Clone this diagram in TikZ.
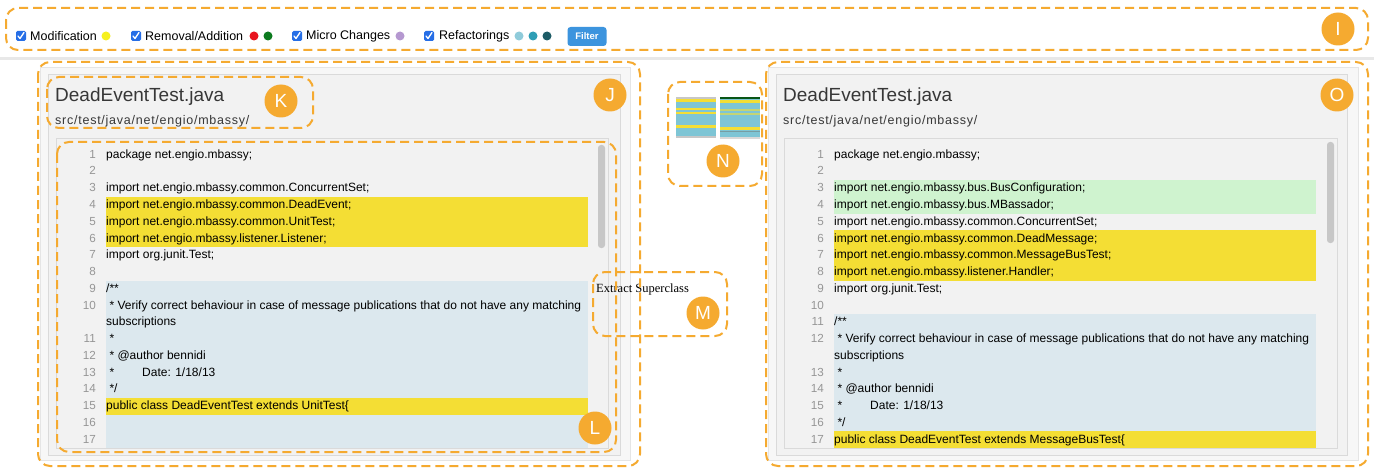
\documentclass[tikz,border=0pt]{standalone}
\usepackage{fontspec}
\setmainfont{Liberation Sans}
\newfontfamily\codefont{Liberation Sans}
\newfontfamily\pathfont[LetterSpace=6]{Liberation Sans}
\newfontfamily\serifface{Liberation Serif}
\usepackage{tikz}
\usetikzlibrary{calc}
\definecolor{badgeorange}{RGB}{245,170,48}
\definecolor{chkblue}{RGB}{38,110,230}
\definecolor{btnblue}{RGB}{60,148,222}
\definecolor{panelgray}{RGB}{242,242,242}
\definecolor{framegray}{RGB}{218,218,218}
\definecolor{numgray}{RGB}{150,150,150}
\definecolor{titlegray}{RGB}{55,55,55}
\definecolor{modyellow}{RGB}{244,222,52}
\definecolor{commentblue}{RGB}{220,232,238}
\definecolor{addgreen}{RGB}{207,243,207}
\definecolor{mapblue}{RGB}{126,197,213}
\definecolor{dotyellow}{RGB}{246,240,30}
\definecolor{dotred}{RGB}{232,20,30}
\definecolor{dotgreen}{RGB}{12,122,30}
\definecolor{dotpurple}{RGB}{181,152,208}
\definecolor{dotlightblue}{RGB}{143,203,218}
\definecolor{dotteal}{RGB}{46,158,181}
\definecolor{dotdarkteal}{RGB}{29,92,102}

% one numbered line of source: name, x of number, row, number, text
\newcommand{\codeline}[5]{%
  \node[lineno] (#1n) at (#2,{155+16.75*#3}) {#4};
  \node[codetext] (#1) at ({#2+10},{155+16.75*#3}) {#5};}

\begin{document}
\begin{tikzpicture}[x=1pt, y=-1pt,
  region/.style={draw=badgeorange, line width=2pt, dash pattern=on 9pt off 5pt, rounded corners=12pt},
  badge/.style={circle, fill=badgeorange, minimum size=33pt, inner sep=0, text=white, font=\fontsize{19}{19}\selectfont},
  chkbox/.style={fill=chkblue, rounded corners=1.5pt, minimum size=10pt, inner sep=0},
  checkmark/.style={draw=white, line width=1.3pt, line cap=round, line join=round},
  barlabel/.style={anchor=west, inner sep=0, font=\fontsize{12.5}{14}\selectfont},
  legdot/.style={circle, minimum size=9pt, inner sep=0},
  lineno/.style={anchor=east, inner sep=0, text=numgray, font=\codefont\fontsize{11.7}{13}\selectfont, text height=9pt, text depth=2.5pt},
  codetext/.style={anchor=west, inner sep=0, font=\codefont\fontsize{12}{14}\selectfont, text height=9pt, text depth=2.5pt},
  filename/.style={anchor=west, inner sep=0, text=titlegray, font=\fontsize{19}{22}\selectfont},
  filepath/.style={anchor=west, inner sep=0, text=titlegray, font=\pathfont\fontsize{12.5}{14}\selectfont}]

\useasboundingbox[fill=white] (0,0) rectangle (1374,468);

% --- Filter bar ---
\fill[black!9] (0,57) rectangle (1374,60);
\foreach \x/\n in {21/1,136/2,297/3,429/4} {
  \node[chkbox] (chk\n) at (\x,36) {};
  \draw[checkmark] ($(chk\n)+(-3,0)$) -- ++(2,2.5) -- ++(4,-6);
}
\node[barlabel] (modlbl) at (30,36) {Modification};
\node[barlabel] (remlbl) at (145,36) {Removal/Addition};
\node[barlabel] (microlbl) at (306,36) {Micro Changes};
\node[barlabel] (reflbl) at (439,36) {Refactorings};
\foreach \x/\c in {106/dotyellow,254/dotred,268/dotgreen,400/dotpurple,519/dotlightblue,533/dotteal,547/dotdarkteal}
  \node[legdot, fill=\c] (dot\x) at (\x,36) {};
\node[fill=btnblue, rounded corners=3pt, minimum width=39pt, minimum height=19pt, inner sep=0,
      text=white, font=\bfseries\fontsize{9.5}{10}\selectfont] (filter) at (587,36.5) {Filter};

% --- Left file panel ---
\draw[framegray!70, fill=black!3] (40,67) rectangle (630,460);
\draw[framegray, fill=panelgray] (48,74) rectangle (620,455);
\node[filename] (ltitle) at (55,97) {DeadEventTest.java};
\node[filepath] (lpath) at (55,121) {src/test/java/net/engio/mbassy/};
\draw[framegray, fill=panelgray] (56,138) rectangle (608,448);
\fill[modyellow] (106,196.9) rectangle (588,247.1);
\fill[commentblue] (106,280.6) rectangle (588,448);
\fill[modyellow] (106,397.9) rectangle (588,414.6);
\fill[black!22, rounded corners=3pt] (598,145) rectangle (605,248);
\codeline{la1}{96}{0}{1}{package net.engio.mbassy;}
\codeline{la2}{96}{1}{2}{}
\codeline{la3}{96}{2}{3}{import net.engio.mbassy.common.ConcurrentSet;}
\codeline{la4}{96}{3}{4}{import net.engio.mbassy.common.DeadEvent;}
\codeline{la5}{96}{4}{5}{import net.engio.mbassy.common.UnitTest;}
\codeline{la6}{96}{5}{6}{import net.engio.mbassy.listener.Listener;}
\codeline{la7}{96}{6}{7}{import org.junit.Test;}
\codeline{la8}{96}{7}{8}{}
\codeline{la9}{96}{8}{9}{/**}
\codeline{la10}{96}{9}{10}{\ * Verify correct behaviour in case of message publications that do not have any matching}
\node[codetext] (la10w) at (106,{155+16.75*10}) {subscriptions};
\codeline{la11}{96}{11}{11}{\ *}
\codeline{la12}{96}{12}{12}{\ * @author bennidi}
\codeline{la13}{96}{13}{13}{\ *\hspace{28pt}Date: 1/18/13}
\codeline{la14}{96}{14}{14}{\ */}
\codeline{la15}{96}{15}{15}{public class DeadEventTest extends UnitTest\{}
\codeline{la16}{96}{16}{16}{}
\codeline{la17}{96}{17}{17}{}

% --- Overview map ---
\fill[mapblue] (676,97) rectangle (716,138);
\fill[black!22] (676,97) rectangle (716,99);
\fill[modyellow] (676,99.5) rectangle (716,102.5);
\fill[modyellow] (676,108.3) rectangle (716,109.7);
\fill[modyellow] (676,112.3) rectangle (716,113.7);
\fill[modyellow] (676,125.5) rectangle (716,128.5);
\fill[black!22] (676,136) rectangle (716,138);
\fill[mapblue] (720,97) rectangle (760,139);
\fill[dotgreen!70!black] (720,97) rectangle (760,99.5);
\fill[modyellow] (720,100.5) rectangle (760,103.5);
\fill[modyellow!60!mapblue] (720,109.5) rectangle (760,111);
\fill[modyellow!60!mapblue] (720,113.5) rectangle (760,115);
\fill[modyellow] (720,127) rectangle (760,130);
\fill[dotdarkteal!60] (720,131.5) rectangle (760,132.5);
\fill[black!15] (720,137) rectangle (760,139);

% --- Refactoring label ---
\node[anchor=west, inner sep=0, font=\serifface\fontsize{12.5}{14}\selectfont] (refname) at (596,289) {Extract Superclass};

% --- Right file panel ---
\draw[framegray!70, fill=black!3] (768,67) rectangle (1358,460);
\draw[framegray, fill=panelgray] (776,74) rectangle (1347,455);
\node[filename] (rtitle) at (783,97) {DeadEventTest.java};
\node[filepath] (rpath) at (783,121) {src/test/java/net/engio/mbassy/};
\draw[framegray, fill=panelgray] (784,138) rectangle (1337,448);
\fill[addgreen] (834,180.1) rectangle (1316,213.6);
\fill[modyellow] (834,230.4) rectangle (1316,280.6);
\fill[commentblue] (834,314.1) rectangle (1316,448);
\fill[modyellow] (834,431.4) rectangle (1316,448);
\fill[black!22, rounded corners=3pt] (1327,142) rectangle (1334,243);
\codeline{ra1}{824}{0}{1}{package net.engio.mbassy;}
\codeline{ra2}{824}{1}{2}{}
\codeline{ra3}{824}{2}{3}{import net.engio.mbassy.bus.BusConfiguration;}
\codeline{ra4}{824}{3}{4}{import net.engio.mbassy.bus.MBassador;}
\codeline{ra5}{824}{4}{5}{import net.engio.mbassy.common.ConcurrentSet;}
\codeline{ra6}{824}{5}{6}{import net.engio.mbassy.common.DeadMessage;}
\codeline{ra7}{824}{6}{7}{import net.engio.mbassy.common.MessageBusTest;}
\codeline{ra8}{824}{7}{8}{import net.engio.mbassy.listener.Handler;}
\codeline{ra9}{824}{8}{9}{import org.junit.Test;}
\codeline{ra10}{824}{9}{10}{}
\codeline{ra11}{824}{10}{11}{/**}
\codeline{ra12}{824}{11}{12}{\ * Verify correct behaviour in case of message publications that do not have any matching}
\node[codetext] (ra12w) at (834,{155+16.75*12}) {subscriptions};
\codeline{ra13}{824}{13}{13}{\ *}
\codeline{ra14}{824}{14}{14}{\ * @author bennidi}
\codeline{ra15}{824}{15}{15}{\ *\hspace{28pt}Date: 1/18/13}
\codeline{ra16}{824}{16}{16}{\ */}
\codeline{ra17}{824}{17}{17}{public class DeadEventTest extends MessageBusTest\{}

% --- Marked regions ---
\draw[region] (6,8) rectangle (1368,50);
\draw[region] (38,62) rectangle (640,466);
\draw[region] (47,77) rectangle (313,128);
\draw[region] (57,142) rectangle (616,452);
\draw[region] (668,82) rectangle (762,186);
\draw[region] (593,272) rectangle (727,336);
\draw[region] (766,62) rectangle (1368,466);
\node[badge] (bI) at (1338,29) {I};
\node[badge] (bJ) at (610,95) {J};
\node[badge] (bK) at (281,101) {K};
\node[badge] (bL) at (595,428) {L};
\node[badge] (bM) at (703,313) {M};
\node[badge] (bN) at (723,161) {N};
\node[badge] (bO) at (1337,95) {O};

\end{tikzpicture}
\end{document}
